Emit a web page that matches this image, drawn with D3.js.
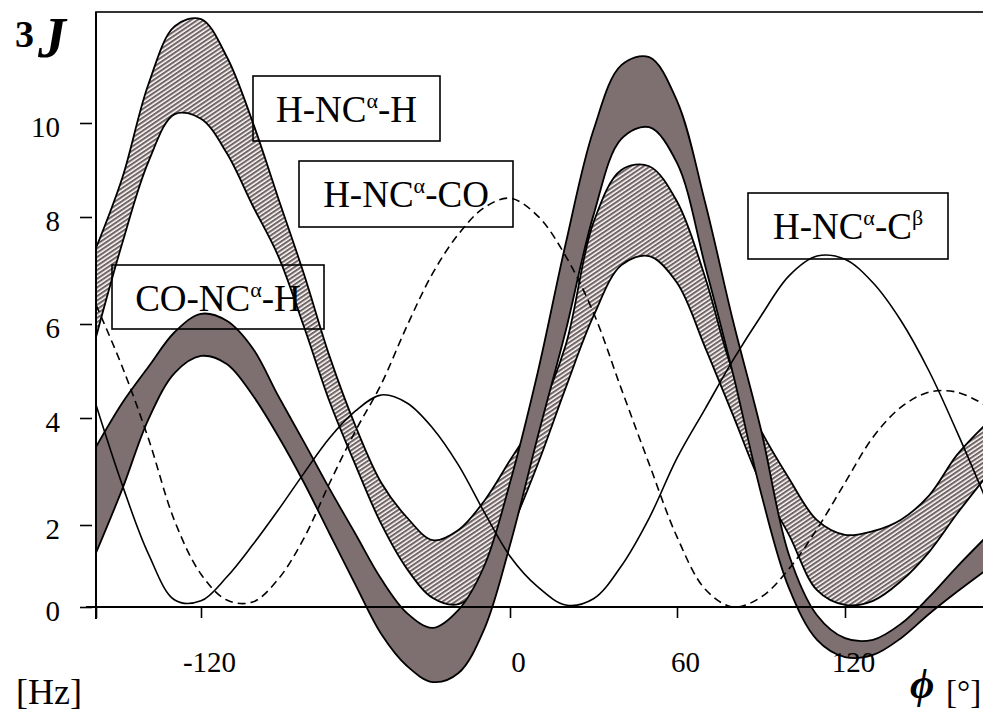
<!DOCTYPE html>
<html>
<head>
<meta charset="utf-8">
<script src="https://cdn.jsdelivr.net/npm/d3@7"></script>
<style>
  body { margin: 0; background: #fff; }
  text { font-family: "Liberation Serif", "Times New Roman", "DejaVu Serif", serif; fill: #000; }
</style>
</head>
<body>
<div class="chart"></div>
<script>
// dihedral angle phi (deg), one sample every 10 deg
var phi = [-160, -150, -140, -130, -120, -110, -100, -90, -80, -70, -60, -50,
  -40, -30, -20, -10, 0, 10, 20, 30, 40, 50, 60, 70, 80, 90, 100, 110, 120,
  130, 140, 150, 160, 170];

// H-NCa-H band (hatched)
var hnhaUpper = [7.42, 8.83, 10.83, 12.06, 12.21, 11.41, 10.03, 8.40, 6.93, 5.30,
  3.85, 2.79, 2.14, 1.63, 1.88, 2.45, 3.21, 4.06, 5.55, 7.90, 9.00, 9.08, 8.33,
  6.88, 4.98, 3.76, 2.87, 2.09, 1.76, 1.85, 2.10, 2.55, 3.31, 3.87];
var hnhaLower = [5.72, 7.51, 9.18, 10.19, 10.09, 9.36, 8.25, 7.27, 5.94, 4.34,
  3.12, 2.02, 0.93, 0.22, 0.07, 0.59, 1.84, 3.14, 4.64, 6.15, 7.10, 7.27, 6.77,
  5.51, 4.06, 2.77, 1.76, 0.41, 0.05, 0.15, 0.63, 1.34, 2.21, 2.88];

// CO-NCa-H band (solid fill)
var conhUpper = [3.46, 4.32, 5.09, 5.83, 6.19, 6.06, 5.49, 4.47, 3.55, 2.67,
  1.78, 0.68, -0.15, -0.51, -0.07, 1.00, 2.79, 4.98, 7.50, 9.85, 11.23, 11.40,
  10.47, 8.32, 6.06, 3.78, 1.27, -0.20, -0.76, -0.80, -0.41, 0.24, 0.98, 1.68];
var conhLower = [1.32, 2.67, 3.98, 4.96, 5.32, 5.15, 4.49, 3.66, 2.79, 1.78,
  0.54, -0.66, -1.44, -1.83, -1.61, -0.54, 1.51, 3.66, 5.85, 8.04, 9.66, 9.91,
  9.15, 7.10, 4.94, 2.60, 0.46, -0.80, -1.22, -1.17, -0.76, -0.17, 0.37, 0.88];

// H-NCa-CO (dashed) and H-NCa-Cb (thin line)
var hncoCurve = [6.36, 5.09, 3.61, 2.07, 0.80, 0.17, 0.12, 0.68, 1.68, 2.79,
  3.76, 4.72, 5.96, 6.95, 7.68, 8.20, 8.40, 8.02, 7.27, 6.21, 4.62, 3.14, 1.71,
  0.44, 0.00, 0.24, 0.93, 1.90, 2.79, 3.64, 4.23, 4.55, 4.55, 4.28];
var hncbCurve = [4.28, 2.75, 1.29, 0.17, 0.15, 0.73, 1.51, 2.28, 2.97, 3.63,
  4.15, 4.49, 4.32, 3.81, 3.12, 2.24, 1.24, 0.49, 0.05, 0.20, 1.00, 2.13, 3.25,
  4.19, 5.23, 6.15, 6.90, 7.27, 7.21, 6.77, 6.06, 5.00, 3.74, 2.52];

// ticks
var xTicks = [-160, -120, 0, 60, 120];
var xTickLabels = ["", "-120", "0", "60", "120"];
var yTicks = [0, 2, 4, 6, 8, 10];

// label boxes: text pieces [normal, superscript, normal, superscript]
var labels = [
  { parts: ["H-NC", "\u03b1", "-H", ""], box: [253, 76, 187, 65] },
  { parts: ["H-NC", "\u03b1", "-CO", ""], box: [299, 161, 214, 66] },
  { parts: ["CO-NC", "\u03b1", "-H", ""], box: [112, 265, 212, 64] },
  { parts: ["H-NC", "\u03b1", "-C", "\u03b2"], box: [748, 193, 200, 66] }
];

var svgWidth = 983;
var svgHeight = 713;
var bandColor = "#7e7070";

var svg = d3.select(".chart")
  .append("svg")
  .attr("width", svgWidth)
  .attr("height", svgHeight);

// the printed axis is not evenly spaced, so both scales are piecewise
var x = d3.scaleLinear()
  .domain([-160, -120, 0, 60, 120, 180])
  .range([96, 201, 510, 677, 845, 1013]);

var y = d3.scaleLinear()
  .domain([0, 2, 4, 6, 8, 10])
  .range([607, 525, 418, 324, 217, 123]);

// hatch pattern (pixel stripes like the scan)
var pat = svg.append("defs").append("pattern")
  .attr("id", "hatch")
  .attr("patternUnits", "userSpaceOnUse")
  .attr("width", 8)
  .attr("height", 3.6)
  .attr("patternTransform", "rotate(-34)");
pat.append("rect").attr("width", 8).attr("height", 3.6).attr("fill", "#fff");
pat.append("rect").attr("width", 8).attr("height", 2.1).attr("fill", "#736565");

function band(upper, lower) {
  return d3.area()
    .x((d, i) => x(phi[i]))
    .y0((d, i) => y(lower[i]))
    .y1((d, i) => y(upper[i]))
    .curve(d3.curveCatmullRom)(phi);
}

function curve(values) {
  return d3.line()
    .x((d, i) => x(phi[i]))
    .y(d => y(d))
    .curve(d3.curveCatmullRom)(values);
}

var plot = svg.append("g");

// hatched band first, the filled band goes over it
plot.append("path")
  .attr("d", band(hnhaUpper, hnhaLower))
  .attr("fill", "url(#hatch)");
[hnhaUpper, hnhaLower].forEach(function(s) {
  plot.append("path").attr("d", curve(s))
    .attr("fill", "none").attr("stroke", "#000").attr("stroke-width", 1.8);
});

plot.append("path")
  .attr("d", band(conhUpper, conhLower))
  .attr("fill", bandColor);
[conhUpper, conhLower].forEach(function(s) {
  plot.append("path").attr("d", curve(s))
    .attr("fill", "none").attr("stroke", "#000").attr("stroke-width", 1.8);
});

plot.append("path")
  .attr("d", curve(hncoCurve))
  .attr("fill", "none")
  .attr("stroke", "#000")
  .attr("stroke-width", 1.6)
  .attr("stroke-dasharray", "8,5");

plot.append("path")
  .attr("d", curve(hncbCurve))
  .attr("fill", "none")
  .attr("stroke", "#000")
  .attr("stroke-width", 1.6);

// label boxes
labels.forEach(function(l) {
  var b = l.box;
  svg.append("rect")
    .attr("x", b[0]).attr("y", b[1])
    .attr("width", b[2]).attr("height", b[3])
    .attr("fill", "none").attr("stroke", "#000").attr("stroke-width", 1.6);
  var t = svg.append("text")
    .attr("x", b[0] + b[2] / 2)
    .attr("y", b[1] + 46)
    .attr("text-anchor", "middle")
    .style("font-size", "37px");
  t.append("tspan").text(l.parts[0]);
  t.append("tspan").attr("dy", -14).style("font-size", "22px").text(l.parts[1]);
  t.append("tspan").attr("dy", 14).text(l.parts[2]);
  if (l.parts[3]) {
    t.append("tspan").attr("dy", -14).style("font-size", "22px").text(l.parts[3]);
  }
});

// frame and axis lines
svg.append("rect")
  .attr("x", x(-160)).attr("y", 12)
  .attr("width", x(180) - x(-160)).attr("height", y(0) - 12)
  .attr("fill", "none").attr("stroke", "#000").attr("stroke-width", 1.6);
svg.append("line")
  .attr("x1", 86).attr("x2", svgWidth)
  .attr("y1", y(0)).attr("y2", y(0))
  .attr("stroke", "#000").attr("stroke-width", 2);
svg.append("line")
  .attr("x1", x(-160)).attr("x2", x(-160))
  .attr("y1", 12).attr("y2", 619)
  .attr("stroke", "#000").attr("stroke-width", 2);

// x axis ticks
var xAxis = svg.append("g")
  .attr("transform", `translate(0, ${y(0)})`)
  .call(d3.axisBottom(x)
    .tickValues(xTicks)
    .tickSize(11)
    .tickFormat((d, i) => xTickLabels[i]));
xAxis.select(".domain").remove();
xAxis.selectAll("line").attr("stroke-width", 1.6);
xAxis.selectAll("text")
  .attr("y", 65).attr("dy", 0).attr("dx", 8)
  .style("font-size", "29px")
  .attr("fill", "#000");

// y axis ticks, drawn a little off the axis line as in the print
var yAxis = svg.append("g")
  .attr("transform", "translate(92, 0)")
  .call(d3.axisLeft(y)
    .tickValues(yTicks)
    .tickSize(12)
    .tickPadding(20)
    .tickFormat(d3.format("d")));
yAxis.select(".domain").remove();
yAxis.selectAll("line").attr("stroke-width", 1.6);
yAxis.selectAll("text")
  .attr("dy", 13)
  .style("font-size", "29px")
  .attr("fill", "#000");

// axis titles
svg.append("text").attr("x", 15).attr("y", 47)
  .style("font-size", "38px").style("font-weight", "bold").text("3");
svg.append("text").attr("x", 38).attr("y", 57)
  .style("font-size", "56px").style("font-weight", "bold").style("font-style", "italic").text("J");
svg.append("text").attr("x", 16).attr("y", 704)
  .style("font-size", "36px").text("[Hz]");
svg.append("text").attr("x", 910).attr("y", 698)
  .style("font-size", "42px").style("font-weight", "bold").style("font-style", "italic").text("\u03d5");
svg.append("text").attr("x", 946).attr("y", 703)
  .style("font-size", "33px").text("[\u00b0]");
</script>
</body>
</html>
